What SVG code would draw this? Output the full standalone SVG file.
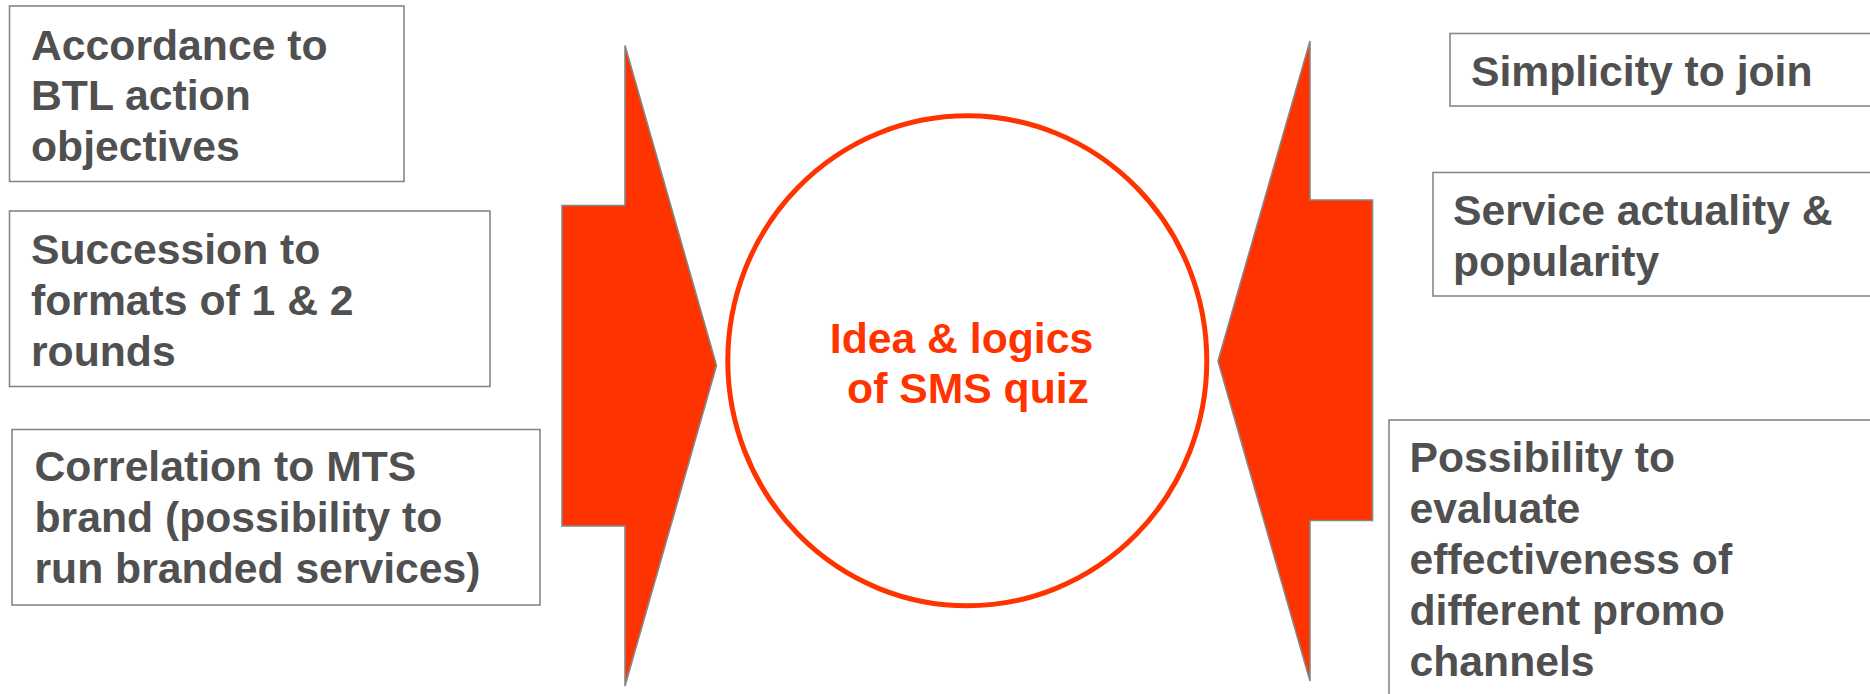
<svg xmlns="http://www.w3.org/2000/svg" width="1870" height="694" viewBox="0 0 1870 694">
  <style>
    .box { fill: #ffffff; stroke: #878787; stroke-width: 1.6; }
    .lbl { font-family: "Liberation Sans", Arial, sans-serif; font-weight: bold; font-size: 42.7px; fill: #505050; }
    .arrow { fill: #ff3300; stroke: #878787; stroke-width: 1.6; stroke-linejoin: miter; }
    .hub { fill: #ffffff; stroke: #ff3300; stroke-width: 5; }
    .hub-text { font-family: "Liberation Sans", Arial, sans-serif; font-weight: bold; font-size: 42.7px; fill: #ff3300; }
  </style>
  <rect width="1870" height="694" fill="#ffffff"/>

  <!-- block arrows pushing toward the centre -->
  <g id="connectors">
    <polygon class="arrow" points="625,45.5 716.5,365.5 625,686 625,526 562,526 562,205.5 625,205.5"/>
    <polygon class="arrow" points="1310,41 1218,361 1310,681 1310,520.5 1372.5,520.5 1372.5,200 1310,200"/>
  </g>

  <!-- central idea -->
  <g id="hub">
    <ellipse class="hub" cx="967.3" cy="360.8" rx="239.5" ry="245"/>
    <text class="hub-text" x="961.5" y="353" text-anchor="middle">Idea &amp; logics</text>
    <text class="hub-text" x="968" y="403" text-anchor="middle">of SMS quiz</text>
  </g>

  <!-- left-hand requirements -->
  <g id="accordance">
    <rect class="box" x="9.5" y="6" width="394.5" height="175.5"/>
    <text class="lbl" x="31" y="59.6">Accordance to</text>
    <text class="lbl" x="31" y="110.3">BTL action</text>
    <text class="lbl" x="31" y="161">objectives</text>
  </g>
  <g id="succession">
    <rect class="box" x="9.5" y="211" width="480.5" height="175.5"/>
    <text class="lbl" x="31" y="263.6">Succession to</text>
    <text class="lbl" x="31" y="314.6">formats of 1 &amp; 2</text>
    <text class="lbl" x="31" y="365.6">rounds</text>
  </g>
  <g id="correlation">
    <rect class="box" x="12" y="429.5" width="528" height="175.5"/>
    <text class="lbl" x="34.5" y="481">Correlation to MTS</text>
    <text class="lbl" x="34.5" y="532">brand (possibility to</text>
    <text class="lbl" x="34.5" y="583">run branded services)</text>
  </g>

  <!-- right-hand requirements -->
  <g id="simplicity">
    <rect class="box" x="1450" y="33.5" width="440" height="72.5"/>
    <text class="lbl" x="1471" y="85.5">Simplicity to join</text>
  </g>
  <g id="actuality">
    <rect class="box" x="1433" y="172.5" width="457" height="123.5"/>
    <text class="lbl" x="1453" y="225">Service actuality &amp;</text>
    <text class="lbl" x="1453" y="275.5">popularity</text>
  </g>
  <g id="evaluation">
    <rect class="box" x="1389" y="420" width="501" height="300"/>
    <text class="lbl" x="1409.5" y="471.5">Possibility to</text>
    <text class="lbl" x="1409.5" y="522.5">evaluate</text>
    <text class="lbl" x="1409.5" y="573.5">effectiveness of</text>
    <text class="lbl" x="1409.5" y="624.5">different promo</text>
    <text class="lbl" x="1409.5" y="675.5">channels</text>
  </g>
</svg>
